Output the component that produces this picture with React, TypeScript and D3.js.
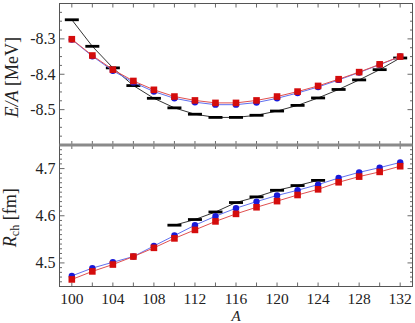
import React, { useEffect, useRef } from "react";
import * as d3 from "d3";

// mass numbers
const massA = [100, 102, 104, 106, 108, 110, 112, 114, 116, 118, 120, 122, 124, 126, 128, 130, 132];

// binding energy per nucleon
const expE = [-8.246, -8.321, -8.382, -8.432, -8.468, -8.495, -8.513, -8.522, -8.522, -8.516, -8.504, -8.488, -8.467, -8.443, -8.416, -8.387, -8.354];
const blueE = [-8.302, -8.349, -8.39, -8.423, -8.449, -8.468, -8.479, -8.486, -8.486, -8.48, -8.468, -8.453, -8.436, -8.416, -8.395, -8.373, -8.35];
const redE = [-8.301, -8.347, -8.387, -8.419, -8.444, -8.463, -8.474, -8.481, -8.481, -8.474, -8.463, -8.449, -8.433, -8.414, -8.394, -8.372, -8.35];

// charge radii
const expA = [110, 112, 114, 116, 118, 120, 122, 124];
const expR = [4.58, 4.592, 4.608, 4.628, 4.64, 4.654, 4.664, 4.675];
const blueR = [4.4725, 4.489, 4.5015, 4.5135, 4.536, 4.558, 4.58, 4.599, 4.616, 4.63, 4.643, 4.654, 4.666, 4.68, 4.692, 4.702, 4.713];
const redR = [4.465, 4.482, 4.4966, 4.5135, 4.532, 4.552, 4.57, 4.588, 4.604, 4.618, 4.631, 4.644, 4.656, 4.671, 4.683, 4.693, 4.705];

const xTicks = [100, 104, 108, 112, 116, 120, 124, 128, 132];
const eTicks = [-8.3, -8.4, -8.5];
const rTicks = [4.5, 4.6, 4.7];

const W = 415;
const H = 323;
const left = 59.5;
const right = 412.5;
const top = 3.5;
const mid = 145;
const bottom = 286.5;
const font = "'Liberation Serif', serif";

const App = () => {
  const ref = useRef<SVGSVGElement>(null);

  useEffect(() => {
    const svg = d3.select(ref.current);
    svg.selectAll("*").remove();

    const x = d3.scaleLinear().domain([98.8, 133.2]).range([left, right]);
    const yE = d3.scaleLinear().domain([-8.6, -8.2]).range([mid, top]);
    const yR = d3.scaleLinear().domain([4.45, 4.75]).range([bottom, mid]);

    const panel = (y, y0, y1, minorStep, majors, fmt) => {
      const g = svg.append("g");
      // x ticks every 2
      const xs = d3.range(100, 133, 2);
      xs.forEach((v) => {
        g.append("line").attr("x1", x(v)).attr("x2", x(v)).attr("y1", y1).attr("y2", y1 - 4).attr("stroke", "#444").attr("stroke-width", 0.8);
        g.append("line").attr("x1", x(v)).attr("x2", x(v)).attr("y1", y0).attr("y2", y0 + 4).attr("stroke", "#444").attr("stroke-width", 0.8);
      });
      const [d0, d1] = y.domain();
      const n = Math.round((d1 - d0) / minorStep);
      for (let i = 1; i < n; i++) {
        const v = d0 + i * minorStep;
        const major = majors.some((m) => Math.abs(m - v) < 1e-6);
        const len = major ? 5 : 2.5;
        g.append("line").attr("x1", left).attr("x2", left + len).attr("y1", y(v)).attr("y2", y(v)).attr("stroke", "#444").attr("stroke-width", 0.8);
        g.append("line").attr("x1", right).attr("x2", right - len).attr("y1", y(v)).attr("y2", y(v)).attr("stroke", "#444").attr("stroke-width", 0.8);
      }
      majors.forEach((m) => {
        g.append("text").attr("x", left - 4).attr("y", y(m) + 5.5).attr("text-anchor", "end")
          .attr("font-family", font).attr("font-size", 16).attr("fill", "#222").text(fmt(m));
      });
    };

    panel(yE, top, mid, 0.025, eTicks, (v) => v.toFixed(1));
    panel(yR, mid, bottom, 0.01, rTicks, (v) => v.toFixed(1));

    // frames
    svg.append("rect").attr("x", left).attr("y", top).attr("width", right - left).attr("height", mid - top)
      .attr("fill", "none").attr("stroke", "#555").attr("stroke-width", 1);
    svg.append("rect").attr("x", left).attr("y", mid).attr("width", right - left).attr("height", bottom - mid)
      .attr("fill", "none").attr("stroke", "#555").attr("stroke-width", 1);
    svg.append("line").attr("x1", left).attr("x2", right).attr("y1", mid).attr("y2", mid)
      .attr("stroke", "#8a8a8a").attr("stroke-width", 3);

    // x tick labels
    xTicks.forEach((v) => {
      svg.append("text").attr("x", x(v)).attr("y", 304).attr("text-anchor", "middle")
        .attr("font-family", font).attr("font-size", 15.5).attr("fill", "#222").text(v);
    });

    const series = (xsArr, ysArr, y, lineCol) => {
      const line = d3.line<number>().x((_, i) => x(xsArr[i])).y((d) => y(d));
      svg.append("path").attr("d", line(ysArr)).attr("fill", "none").attr("stroke", lineCol).attr("stroke-width", 1);
    };

    const dashes = (xsArr, ysArr, y) => {
      series(xsArr, ysArr, y, "#333");
      svg.append("g").selectAll("line").data(ysArr).join("line")
        .attr("x1", (_, i) => x(xsArr[i]) - 7).attr("x2", (_, i) => x(xsArr[i]) + 7)
        .attr("y1", (d) => y(d)).attr("y2", (d) => y(d))
        .attr("stroke", "#000").attr("stroke-width", 2.8);
    };

    const circles = (ysArr, y) => {
      series(massA, ysArr, y, "#6070f0");
      svg.append("g").selectAll("circle").data(ysArr).join("circle")
        .attr("cx", (_, i) => x(massA[i])).attr("cy", (d) => y(d)).attr("r", 3.2).attr("fill", "#1a1ad8");
    };

    const squares = (ysArr, y) => {
      series(massA, ysArr, y, "#e05050");
      svg.append("g").selectAll("rect").data(ysArr).join("rect")
        .attr("x", (_, i) => x(massA[i]) - 3.3).attr("y", (d) => y(d) - 3.3)
        .attr("width", 6.6).attr("height", 6.6).attr("fill", "#d40c0c");
    };

    dashes(massA, expE, yE);
    circles(blueE, yE);
    squares(redE, yE);

    dashes(expA, expR, yR);
    circles(blueR, yR);
    squares(redR, yR);

    // axis labels
    const yl1 = svg.append("text").attr("transform", `translate(18, ${(top + mid) / 2 + 3}) rotate(-90)`)
      .attr("text-anchor", "middle").attr("font-family", font).attr("font-size", 18).attr("fill", "#222");
    yl1.append("tspan").attr("font-style", "italic").text("E/A");
    yl1.append("tspan").text(" [MeV]");

    const yl2 = svg.append("text").attr("transform", `translate(16, ${(mid + bottom) / 2 + 2}) rotate(-90)`)
      .attr("text-anchor", "middle").attr("font-family", font).attr("font-size", 18).attr("fill", "#222");
    yl2.append("tspan").attr("font-style", "italic").text("R");
    yl2.append("tspan").attr("font-size", 12).attr("dy", 3).text("ch");
    yl2.append("tspan").attr("dy", -3).text(" [fm]");

    svg.append("text").attr("x", x(116)).attr("y", 321).attr("text-anchor", "middle")
      .attr("font-family", font).attr("font-size", 15).attr("font-style", "italic").attr("fill", "#222").text("A");
  }, []);

  return (
    <svg ref={ref} width={W} height={H} style={{ position: "absolute", left: 0, top: 0, background: "white" }}></svg>
  );
};

export default App;
